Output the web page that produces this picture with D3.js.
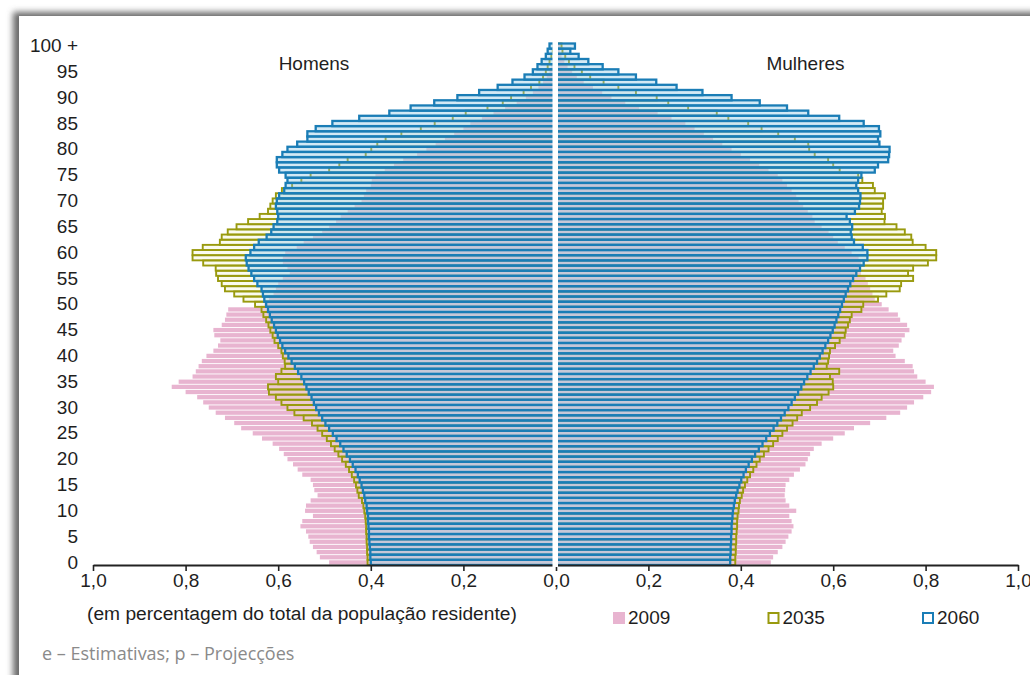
<!DOCTYPE html>
<html><head><meta charset="utf-8">
<script src="https://cdn.jsdelivr.net/npm/d3@7"></script>
<style>html,body{margin:0;padding:0;background:#fff;} svg{display:block;}</style>
</head><body>
<svg id="c" width="1030" height="675"></svg>
<script>
// ---------- DATA (percent of total resident population, by single age 0..100+) ----------
const ages = d3.range(0, 101);
const ageTicks = [0,5,10,15,20,25,30,35,40,45,50,55,60,65,70,75,80,85,90,95,100];
const valueTicks = [0, 0.2, 0.4, 0.6, 0.8, 1.0];
const seriesNames = ["2009", "2035", "2060"];
const sideTitles = ["Homens", "Mulheres"];

const homens2009 = [0.490,0.510,0.517,0.525,0.532,0.535,0.540,0.552,0.548,0.525,
 0.542,0.540,0.530,0.515,0.522,0.525,0.530,0.548,0.558,0.568,
 0.580,0.588,0.598,0.612,0.635,0.655,0.680,0.695,0.715,0.735,
 0.750,0.762,0.775,0.800,0.830,0.815,0.785,0.778,0.772,0.765,
 0.755,0.740,0.730,0.725,0.738,0.740,0.722,0.715,0.712,0.708,
 0.630,0.620,0.610,0.605,0.600,0.590,0.575,0.580,0.590,0.590,
 0.585,0.560,0.545,0.525,0.505,0.490,0.475,0.465,0.450,0.435,
 0.420,0.415,0.410,0.400,0.398,0.390,0.370,0.350,0.330,0.300,
 0.280,0.260,0.240,0.220,0.200,0.185,0.160,0.135,0.110,0.085,
 0.065,0.050,0.038,0.028,0.020,0.014,0.010,0.007,0.005,0.003,0.004];

const homens2035 = [0.407,0.407,0.408,0.408,0.409,0.409,0.410,0.410,0.411,0.412,
 0.414,0.416,0.419,0.426,0.429,0.432,0.436,0.441,0.447,0.454,
 0.462,0.470,0.478,0.486,0.495,0.505,0.515,0.527,0.545,0.565,
 0.580,0.593,0.605,0.620,0.622,0.600,0.605,0.593,0.585,0.586,
 0.590,0.593,0.600,0.608,0.612,0.617,0.621,0.626,0.632,0.636,
 0.650,0.675,0.695,0.715,0.722,0.730,0.734,0.735,0.762,0.785,
 0.785,0.763,0.726,0.722,0.709,0.690,0.665,0.640,0.622,0.617,
 0.612,0.605,0.592,0.570,0.550,0.530,0.490,0.468,0.450,0.411,
 0.399,0.386,0.368,0.334,0.292,0.262,0.223,0.195,0.148,0.115,
 0.097,0.070,0.054,0.036,0.028,0.022,0.018,0.014,0.010,0.007,0.005];

const homens2060 = [0.400,0.401,0.401,0.402,0.403,0.404,0.404,0.405,0.406,0.406,
 0.408,0.409,0.412,0.414,0.417,0.420,0.424,0.428,0.433,0.439,
 0.445,0.452,0.459,0.466,0.474,0.482,0.490,0.498,0.505,0.512,
 0.518,0.523,0.528,0.534,0.539,0.544,0.550,0.557,0.564,0.571,
 0.578,0.585,0.591,0.596,0.601,0.605,0.609,0.614,0.618,0.622,
 0.626,0.630,0.633,0.636,0.645,0.652,0.658,0.664,0.668,0.670,
 0.660,0.652,0.642,0.625,0.615,0.610,0.602,0.600,0.602,0.605,
 0.603,0.598,0.587,0.584,0.580,0.584,0.598,0.603,0.603,0.591,
 0.580,0.559,0.537,0.537,0.519,0.483,0.425,0.360,0.314,0.263,
 0.213,0.166,0.126,0.094,0.068,0.050,0.040,0.031,0.022,0.018,0.014];

const mulheres2009 = [0.465,0.470,0.480,0.490,0.497,0.503,0.510,0.514,0.510,0.505,
 0.520,0.505,0.497,0.495,0.496,0.497,0.505,0.515,0.528,0.540,
 0.545,0.550,0.558,0.575,0.600,0.625,0.645,0.680,0.715,0.745,
 0.760,0.775,0.795,0.812,0.818,0.800,0.782,0.775,0.772,0.755,
 0.735,0.730,0.742,0.748,0.755,0.765,0.760,0.745,0.740,0.720,
 0.705,0.690,0.685,0.680,0.675,0.670,0.660,0.655,0.660,0.655,
 0.640,0.625,0.610,0.600,0.590,0.575,0.560,0.555,0.545,0.535,
 0.525,0.520,0.510,0.500,0.490,0.480,0.460,0.440,0.420,0.400,
 0.380,0.360,0.340,0.320,0.300,0.280,0.250,0.220,0.180,0.150,
 0.120,0.100,0.080,0.060,0.045,0.035,0.025,0.018,0.012,0.008,0.010];

const mulheres2035 = [0.388,0.388,0.389,0.389,0.390,0.390,0.391,0.392,0.392,0.393,
 0.395,0.396,0.398,0.402,0.405,0.409,0.414,0.420,0.427,0.434,
 0.441,0.450,0.460,0.470,0.480,0.490,0.500,0.512,0.522,0.532,
 0.550,0.565,0.575,0.590,0.600,0.599,0.593,0.613,0.586,0.589,
 0.591,0.593,0.604,0.614,0.625,0.627,0.632,0.636,0.640,0.661,
 0.665,0.697,0.715,0.744,0.747,0.773,0.762,0.773,0.805,0.823,
 0.823,0.800,0.772,0.769,0.755,0.737,0.711,0.712,0.705,0.708,
 0.708,0.712,0.690,0.686,0.663,0.654,0.614,0.600,0.589,0.560,
 0.548,0.546,0.517,0.481,0.445,0.416,0.373,0.348,0.286,0.243,
 0.218,0.173,0.135,0.103,0.074,0.056,0.040,0.028,0.020,0.014,0.012];

const mulheres2060 = [0.377,0.377,0.378,0.378,0.379,0.379,0.380,0.380,0.381,0.382,
 0.383,0.385,0.387,0.390,0.393,0.397,0.401,0.406,0.411,0.417,
 0.424,0.431,0.439,0.447,0.455,0.463,0.471,0.479,0.487,0.495,
 0.503,0.510,0.517,0.524,0.531,0.537,0.544,0.551,0.558,0.565,
 0.571,0.577,0.583,0.589,0.594,0.599,0.603,0.607,0.611,0.615,
 0.619,0.623,0.627,0.632,0.637,0.643,0.650,0.658,0.666,0.674,
 0.674,0.664,0.645,0.640,0.638,0.641,0.636,0.629,0.647,0.656,
 0.658,0.659,0.654,0.650,0.654,0.661,0.690,0.697,0.719,0.721,
 0.722,0.700,0.697,0.702,0.699,0.666,0.613,0.546,0.500,0.441,
 0.380,0.317,0.261,0.217,0.173,0.135,0.101,0.070,0.049,0.031,0.041];

// ---------- STYLE ----------
const FONT = "'Liberation Sans', Arial, Helvetica, sans-serif";
const COL = {
  pink: "#e8b4d0",
  olive: "#999a0e", oliveFill: "rgba(240,244,212,0.35)",
  blue: "#1a7db6", blueFill: "rgba(140,196,230,0.38)",
  text: "#1e1e1e"
};

const svg = d3.select("#c");

// frame with soft shadow
const defs = svg.append("defs");
defs.append("filter").attr("id", "sh").attr("x", -0.05).attr("y", -0.05).attr("width", 1.1).attr("height", 1.1)
  .append("feGaussianBlur").attr("stdDeviation", 3.2);
svg.append("rect").attr("x", 13).attr("y", 12).attr("width", 1060).attr("height", 720)
  .attr("fill", "#6a6a6a").attr("filter", "url(#sh)");
svg.append("rect").attr("x", 19).attr("y", 16).attr("width", 1060).attr("height", 720).attr("fill", "#fff");

// ---------- SCALES ----------
const y = d3.scaleBand().domain(ages).range([565, 43.5]).padding(0);
const bw = y.bandwidth();
const xL = d3.scaleLinear().domain([0, 1]).range([556, 93]);
const xR = d3.scaleLinear().domain([0, 1]).range([556, 1018]);

const sides = [
  {x: xL, s2009: homens2009, s2035: homens2035, s2060: homens2060},
  {x: xR, s2009: mulheres2009, s2035: mulheres2035, s2060: mulheres2060}
];

const plot = svg.append("g");

function barX(sc, v) { return Math.min(sc(0), sc(v)); }
function barW(sc, v) { return Math.abs(sc(v) - sc(0)); }

sides.forEach(side => {
  // 2009: filled pink
  plot.append("g").selectAll("rect").data(ages).join("rect")
    .attr("x", a => barX(side.x, side.s2009[a]))
    .attr("width", a => barW(side.x, side.s2009[a]))
    .attr("y", a => y(a) + 0.45)
    .attr("height", bw - 0.9)
    .attr("fill", COL.pink);
});
sides.forEach(side => {
  // 2035: olive outline
  plot.append("g").selectAll("rect").data(ages).join("rect")
    .attr("x", a => barX(side.x, side.s2035[a]))
    .attr("width", a => barW(side.x, side.s2035[a]))
    .attr("y", a => y(a))
    .attr("height", bw)
    .attr("fill", COL.oliveFill)
    .attr("stroke", COL.olive).attr("stroke-width", 1.9);
});
sides.forEach(side => {
  // 2060: blue outline
  plot.append("g").selectAll("rect").data(ages).join("rect")
    .attr("x", a => barX(side.x, side.s2060[a]))
    .attr("width", a => barW(side.x, side.s2060[a]))
    .attr("y", a => y(a))
    .attr("height", bw)
    .attr("fill", COL.blueFill)
    .attr("stroke", COL.blue).attr("stroke-width", 2.3);
});

// ---------- AXES ----------
const fmt = d => d3.format(".1f")(d).replace(".", ",");
const axL = svg.append("g").attr("transform", "translate(0,565)")
  .call(d3.axisBottom(xL).tickValues(valueTicks).tickFormat(fmt).tickSizeOuter(0).tickSizeInner(6).tickPadding(3));
const axR = svg.append("g").attr("transform", "translate(0,565)")
  .call(d3.axisBottom(xR).tickValues(valueTicks.filter(v => v > 0)).tickFormat(fmt).tickSizeOuter(0).tickSizeInner(6).tickPadding(3));
[axL, axR].forEach(ax => {
  ax.select(".domain").attr("stroke", "#222").attr("stroke-width", 2);
  ax.selectAll(".tick line").attr("stroke", "#222").attr("stroke-width", 1.6);
  ax.selectAll(".tick text").attr("fill", COL.text).style("font-family", FONT).style("font-size", "19px");
});

// center white separator
svg.append("rect").attr("x", 552.5).attr("y", 40).attr("width", 5.5).attr("height", 527).attr("fill", "#fff");

const axY = svg.append("g").attr("transform", "translate(80,0)")
  .call(d3.axisLeft(y).tickValues(ageTicks).tickFormat(a => a === 100 ? "100 +" : String(a)).tickSize(0).tickPadding(2));
axY.select(".domain").remove();
axY.selectAll(".tick text").attr("fill", COL.text).style("font-family", FONT).style("font-size", "19px");

// ---------- TEXT ----------
svg.append("text").attr("x", 314).attr("y", 70).attr("text-anchor", "middle")
  .style("font-family", FONT).style("font-size", "19px").attr("fill", COL.text).text(sideTitles[0]);
svg.append("text").attr("x", 805.5).attr("y", 70).attr("text-anchor", "middle")
  .style("font-family", FONT).style("font-size", "19px").attr("fill", COL.text).text(sideTitles[1]);

svg.append("text").attr("x", 87).attr("y", 620)
  .style("font-family", FONT).style("font-size", "19.2px").attr("fill", COL.text)
  .text("(em percentagem do total da população residente)");

// legend
const legX = d3.scaleLinear().domain([0, 2]).range([613, 922]);
const leg = svg.append("g").selectAll("g").data(seriesNames).join("g")
  .attr("transform", (d, i) => `translate(${legX(i)},612)`);
leg.append("rect")
  .attr("x", (d, i) => i === 0 ? 0 : 1).attr("y", (d, i) => i === 0 ? 0 : 1)
  .attr("width", (d, i) => i === 0 ? 12 : 10).attr("height", (d, i) => i === 0 ? 12 : 10)
  .attr("fill", (d, i) => i === 0 ? COL.pink : "#fff")
  .attr("stroke", (d, i) => i === 0 ? "none" : (i === 1 ? COL.olive : COL.blue))
  .attr("stroke-width", 2);
leg.append("text").attr("x", 15).attr("y", 12)
  .style("font-family", FONT).style("font-size", "19px").attr("fill", COL.text).text(d => d);

svg.append("text").attr("x", 42).attr("y", 660)
  .style("font-family", "'Open Sans', 'Noto Sans', sans-serif").style("font-size", "18px")
  .attr("fill", "#8a8a8a").text("e – Estimativas; p – Projecções");
</script>
</body></html>
